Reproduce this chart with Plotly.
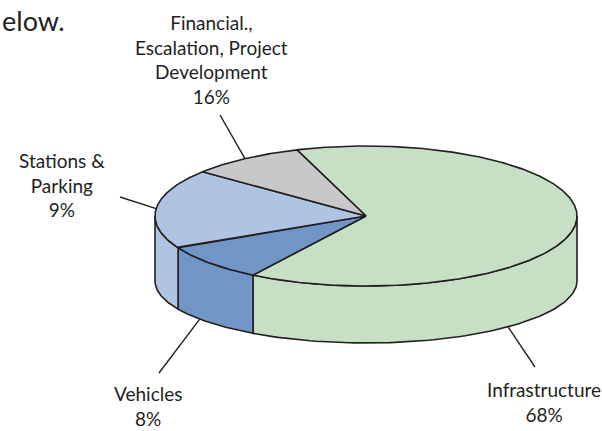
import numpy as np
import plotly.graph_objects as go

# ---- data ----
categories = ["Infrastructure", "Vehicles", "Stations & Parking",
              "Financial., Escalation, Project Development"]
slice_values = [64.3, 8.5, 18.4, 8.8]          # slice sizes as drawn
label_lines = [["Infrastructure", "68%"],
               ["Vehicles", "8%"],
               ["Stations &", "Parking", "9%"],
               ["Financial.,", "Escalation, Project", "Development", "16%"]]
colors = ["#c7dfc5", "#7195c6", "#afc4e1", "#c8c8ca"]

# ---- layout of the pseudo-3D pie (page pixel coordinates) ----
W, H = 602, 431
CX, CY_TOP, CY_BOT = 366, 216, 281
A, B_TOP, B_BOT = 211, 70, 62
START = 109.1
EDGE = "#231f20"
LW = 1.6


def top_pt(t):
    r = np.radians(t)
    return CX + A * np.cos(r), CY_TOP - B_TOP * np.sin(r)


def bot_pt(t):
    r = np.radians(t)
    return CX + A * np.cos(r), CY_BOT - B_BOT * np.sin(r)


vals = np.array(slice_values, dtype=float)
cum = np.concatenate([[0], np.cumsum(vals)]) / vals.sum() * 360.0
bounds = START - cum          # clockwise

fig = go.Figure()

# side faces (front half only: angles in [-180, 0])
for i in range(len(vals)):
    hi, lo = bounds[i], bounds[i + 1]
    s_lo, s_hi = max(lo, -180.0), min(hi, 0.0)
    if s_hi <= s_lo:
        continue
    ts = np.linspace(s_lo, s_hi, 80)
    tx, ty = top_pt(ts)
    bx, by = bot_pt(ts[::-1])
    xs = np.concatenate([tx, bx, tx[:1]])
    ys = np.concatenate([ty, by, ty[:1]])
    fig.add_trace(go.Scatter(x=xs, y=ys, mode="lines", fill="toself",
                             fillcolor=colors[i], line=dict(color=EDGE, width=LW),
                             hoverinfo="skip", showlegend=False))

# top faces
for i in range(len(vals)):
    hi, lo = bounds[i], bounds[i + 1]
    n = max(int(abs(hi - lo)), 4) * 2
    ts = np.linspace(hi, lo, n)
    ax_, ay_ = top_pt(ts)
    xs = np.concatenate([[CX], ax_, [CX]])
    ys = np.concatenate([[CY_TOP], ay_, [CY_TOP]])
    fig.add_trace(go.Scatter(x=xs, y=ys, mode="lines", fill="toself",
                             fillcolor=colors[i], line=dict(color=EDGE, width=LW),
                             hoverinfo="skip", showlegend=False,
                             name=categories[i]))

# leader lines: (anchor angle, face, outer end)
leaders = [(-47.7, "bot", (535, 367)),
           (218.0, "bot", (159, 373)),
           (174.0, "top", (120, 197)),
           (125.0, "top", (220, 115))]
for ang, face, (ox, oy) in leaders:
    px, py = (top_pt(ang) if face == "top" else bot_pt(ang))
    fig.add_shape(type="line", x0=float(px), y0=float(py), x1=ox, y1=oy,
                  line=dict(color=EDGE, width=1.4), layer="below")

# labels
label_pos = [(544, 402), (148, 406), (62, 185), (211, 59)]
FONT = dict(family="Lato, 'Open Sans', sans-serif", size=19, color=EDGE)
for lines, (lx, ly) in zip(label_lines, label_pos):
    fig.add_annotation(x=lx, y=ly, xref="x", yref="y", text="<br>".join(lines),
                       showarrow=False, font=FONT, align="center",
                       xanchor="center", yanchor="middle")

# visible fragment of the page text above the chart
fig.add_annotation(x=0, y=20, xref="x", yref="y", text="elow.", showarrow=False,
                   font=dict(family="Lato, sans-serif", size=27, color=EDGE),
                   xanchor="left", yanchor="middle")

fig.update_layout(width=W, height=H, margin=dict(l=0, r=0, t=0, b=0),
                  paper_bgcolor="white", plot_bgcolor="white", showlegend=False)
fig.update_xaxes(range=[0, W], visible=False, fixedrange=True)
fig.update_yaxes(range=[H, 0], visible=False, fixedrange=True)

fig.write_html("out.html", config={"displayModeBar": False},
               post_script="document.body.style.margin='0';"
                           "document.body.style.overflow='hidden';")
